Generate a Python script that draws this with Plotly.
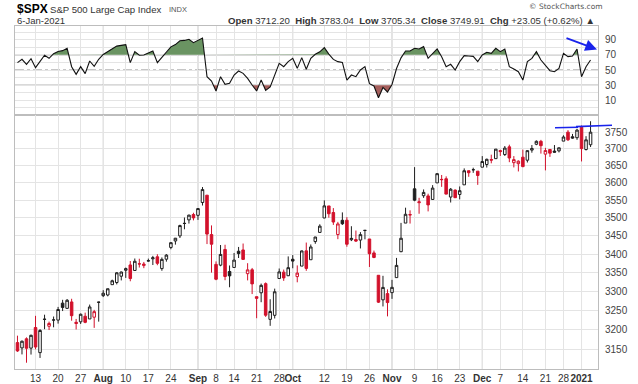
import math
import plotly.graph_objects as go
from plotly.subplots import make_subplots

# ---------------- data ----------------
dates = [
    "2020-07-07", "2020-07-08", "2020-07-09", "2020-07-10", "2020-07-13", "2020-07-14", "2020-07-15",
    "2020-07-16", "2020-07-17", "2020-07-20", "2020-07-21", "2020-07-22", "2020-07-23", "2020-07-24",
    "2020-07-27", "2020-07-28", "2020-07-29", "2020-07-30", "2020-07-31",
    "2020-08-03", "2020-08-04", "2020-08-05", "2020-08-06", "2020-08-07", "2020-08-10", "2020-08-11",
    "2020-08-12", "2020-08-13", "2020-08-14", "2020-08-17", "2020-08-18", "2020-08-19", "2020-08-20",
    "2020-08-21", "2020-08-24", "2020-08-25", "2020-08-26", "2020-08-27", "2020-08-28", "2020-08-31",
    "2020-09-01", "2020-09-02", "2020-09-03", "2020-09-04", "2020-09-08", "2020-09-09", "2020-09-10",
    "2020-09-11", "2020-09-14", "2020-09-15", "2020-09-16", "2020-09-17", "2020-09-18", "2020-09-21",
    "2020-09-22", "2020-09-23", "2020-09-24", "2020-09-25", "2020-09-28", "2020-09-29", "2020-09-30",
    "2020-10-01", "2020-10-02", "2020-10-05", "2020-10-06", "2020-10-07", "2020-10-08", "2020-10-09",
    "2020-10-12", "2020-10-13", "2020-10-14", "2020-10-15", "2020-10-16", "2020-10-19", "2020-10-20",
    "2020-10-21", "2020-10-22", "2020-10-23", "2020-10-26", "2020-10-27", "2020-10-28", "2020-10-29",
    "2020-10-30",
    "2020-11-02", "2020-11-03", "2020-11-04", "2020-11-05", "2020-11-06", "2020-11-09", "2020-11-10",
    "2020-11-11", "2020-11-12", "2020-11-13", "2020-11-16", "2020-11-17", "2020-11-18", "2020-11-19",
    "2020-11-20", "2020-11-23", "2020-11-24", "2020-11-25", "2020-11-27", "2020-11-30",
    "2020-12-01", "2020-12-02", "2020-12-03", "2020-12-04", "2020-12-07", "2020-12-08", "2020-12-09",
    "2020-12-10", "2020-12-11", "2020-12-14", "2020-12-15", "2020-12-16", "2020-12-17", "2020-12-18",
    "2020-12-21", "2020-12-22", "2020-12-23", "2020-12-24", "2020-12-28", "2020-12-29", "2020-12-30",
    "2020-12-31",
    "2021-01-04", "2021-01-05", "2021-01-06",
]

opens = [
    3166.44, 3153.07, 3176.17, 3152.47, 3205.08, 3141.11, 3225.98, 3208.36, 3224.21, 3224.29, 3268.52,
    3254.86, 3271.64, 3218.58, 3219.84, 3234.27, 3227.22, 3231.76, 3270.45,
    3288.26, 3289.92, 3317.37, 3323.17, 3340.05, 3356.04, 3370.34, 3355.46, 3372.95, 3368.66, 3380.86,
    3387.04, 3392.51, 3360.48, 3386.01, 3418.09, 3435.95, 3449.97, 3485.14, 3494.69, 3509.73,
    3507.44, 3543.76, 3564.74, 3453.60, 3371.88, 3369.82, 3412.56, 3352.70, 3363.56, 3407.73, 3411.23,
    3346.86, 3357.38, 3285.57, 3295.75, 3320.11, 3226.14, 3236.66, 3333.90, 3350.92, 3341.21,
    3385.87, 3338.94, 3367.27, 3408.74, 3384.56, 3434.28, 3459.67, 3500.02, 3534.01, 3515.47, 3453.72,
    3493.50, 3493.66, 3439.38, 3439.91, 3438.50, 3464.90, 3441.42, 3403.15, 3342.48, 3277.17, 3293.59,
    3296.20, 3336.25, 3406.46, 3485.74, 3508.34, 3583.04, 3543.26, 3563.22, 3562.67, 3552.57, 3600.16,
    3610.31, 3612.09, 3559.41, 3579.31, 3566.82, 3594.52, 3635.50, 3638.55, 3634.18,
    3645.87, 3653.78, 3668.28, 3670.94, 3694.73, 3683.05, 3705.98, 3659.13, 3656.08, 3675.27, 3666.41,
    3696.25, 3713.65, 3722.39, 3684.28, 3698.08, 3693.42, 3694.03, 3723.03, 3750.01, 3736.19, 3733.27,
    3764.61, 3698.02, 3712.20,
]

highs = [
    3184.15, 3171.80, 3179.78, 3186.82, 3235.32, 3200.95, 3238.28, 3220.39, 3233.52, 3258.61, 3277.29,
    3279.32, 3279.99, 3227.26, 3241.43, 3243.72, 3264.74, 3250.92, 3272.17,
    3302.73, 3306.84, 3330.77, 3351.03, 3352.54, 3363.29, 3381.01, 3387.89, 3387.24, 3378.51, 3387.59,
    3395.06, 3399.54, 3390.80, 3399.96, 3432.09, 3444.21, 3481.07, 3501.38, 3509.23, 3514.77,
    3528.03, 3588.11, 3564.85, 3479.15, 3379.97, 3424.77, 3425.55, 3368.95, 3402.93, 3419.48, 3428.92,
    3375.17, 3362.27, 3285.57, 3320.31, 3323.35, 3278.70, 3306.88, 3360.74, 3357.92, 3393.56,
    3397.18, 3369.10, 3409.57, 3431.56, 3426.26, 3447.28, 3482.34, 3549.85, 3534.01, 3527.94, 3489.08,
    3515.76, 3502.42, 3476.93, 3464.86, 3460.53, 3466.46, 3441.42, 3409.51, 3342.48, 3341.05, 3304.93,
    3330.14, 3389.49, 3486.25, 3529.05, 3521.58, 3645.99, 3557.22, 3581.16, 3569.02, 3593.66, 3628.51,
    3623.11, 3619.09, 3585.22, 3581.23, 3589.81, 3642.31, 3635.50, 3644.31, 3634.18,
    3678.45, 3670.96, 3682.73, 3699.20, 3697.41, 3708.45, 3712.39, 3678.49, 3665.91, 3697.61, 3695.29,
    3711.27, 3725.12, 3726.70, 3702.90, 3698.26, 3711.24, 3703.82, 3740.51, 3756.12, 3744.63, 3760.20,
    3769.99, 3737.83, 3783.04,
]

lows = [
    3142.93, 3136.53, 3115.70, 3136.22, 3149.43, 3127.66, 3200.76, 3198.59, 3205.65, 3215.16, 3247.77,
    3253.10, 3222.66, 3200.05, 3214.25, 3216.17, 3227.22, 3204.13, 3220.26,
    3284.53, 3286.37, 3317.37, 3318.14, 3328.72, 3335.44, 3326.44, 3355.46, 3363.35, 3361.64, 3379.22,
    3370.15, 3369.66, 3354.69, 3379.31, 3413.13, 3425.84, 3444.15, 3468.35, 3484.32, 3493.25,
    3494.60, 3535.23, 3427.41, 3349.63, 3329.27, 3366.84, 3329.25, 3310.47, 3363.56, 3389.25, 3384.45,
    3328.82, 3292.40, 3229.10, 3270.95, 3232.57, 3209.45, 3228.44, 3332.91, 3327.54, 3340.47,
    3361.39, 3323.69, 3367.27, 3354.54, 3384.56, 3428.15, 3458.07, 3499.61, 3500.86, 3480.55, 3440.89,
    3480.45, 3419.93, 3435.65, 3433.06, 3415.34, 3440.45, 3364.86, 3388.71, 3268.89, 3259.82, 3233.94,
    3279.74, 3336.25, 3405.17, 3485.74, 3484.34, 3547.48, 3511.91, 3557.00, 3518.58, 3552.57, 3600.16,
    3588.68, 3567.33, 3543.84, 3556.85, 3552.77, 3594.52, 3617.76, 3629.33, 3594.39,
    3645.87, 3644.84, 3657.17, 3670.94, 3678.88, 3678.83, 3660.54, 3645.18, 3633.40, 3645.84, 3659.62,
    3688.57, 3710.87, 3685.84, 3636.48, 3676.16, 3689.28, 3689.32, 3723.03, 3723.31, 3730.21, 3726.88,
    3662.71, 3695.07, 3705.34,
]

closes = [
    3145.32, 3169.94, 3152.05, 3185.04, 3155.22, 3197.52, 3226.56, 3215.57, 3224.73, 3251.84, 3257.30,
    3276.02, 3235.66, 3215.63, 3239.41, 3218.44, 3258.44, 3246.22, 3271.12,
    3294.61, 3306.51, 3327.77, 3349.16, 3351.28, 3360.47, 3333.69, 3380.35, 3373.43, 3372.85, 3381.99,
    3389.78, 3374.85, 3385.51, 3397.16, 3431.28, 3443.62, 3478.73, 3484.55, 3508.01, 3500.31,
    3526.65, 3580.84, 3455.06, 3426.96, 3331.84, 3398.96, 3339.19, 3340.97, 3383.54, 3401.20, 3385.49,
    3357.01, 3319.47, 3281.06, 3315.57, 3236.92, 3246.59, 3298.46, 3351.60, 3335.47, 3363.00,
    3380.80, 3348.42, 3408.60, 3360.97, 3419.44, 3446.83, 3477.14, 3534.22, 3511.93, 3488.67, 3483.34,
    3483.81, 3426.92, 3443.12, 3435.56, 3453.49, 3465.39, 3400.97, 3390.68, 3271.03, 3310.11, 3269.96,
    3310.24, 3369.16, 3443.44, 3510.45, 3509.44, 3550.50, 3545.53, 3572.66, 3537.01, 3585.15, 3626.91,
    3609.53, 3567.79, 3581.87, 3557.54, 3577.59, 3635.41, 3629.65, 3638.35, 3621.63,
    3662.45, 3669.01, 3666.72, 3699.12, 3691.96, 3702.25, 3672.82, 3668.10, 3663.46, 3647.49, 3694.62,
    3701.17, 3722.48, 3709.41, 3694.92, 3687.26, 3690.01, 3703.06, 3735.36, 3727.04, 3732.04, 3756.07,
    3700.65, 3726.86, 3749.91,
]
prior_close = 3179.72  # close before the first candle (colour of first candle)

rsi = [
    59.7, 64.1, 57.5, 64.9, 53.1, 61.9, 69.5, 65.4, 71.5, 74.5, 75.5, 78.5, 54.4, 44.3, 54.4, 45.2,
    61.9, 54.8, 64.1,
    70.5, 74.5, 78.6, 81.5, 82.5, 83.5, 59.7, 74.2, 69.5, 69.8, 72.5, 75.0, 59.7, 66.7, 72.5, 80.5,
    83.5, 88.5, 89.0, 90.5, 86.0,
    89.0, 92.2, 41.2, 35.5, 22.3, 41.2, 31.1, 32.4, 43.4, 48.7, 45.6, 39.0, 30.2, 22.3, 36.8, 23.2,
    27.6, 43.0, 58.8, 54.4, 61.0,
    65.4, 52.2, 66.3, 50.9, 65.4, 70.7, 74.0, 79.5, 71.0, 64.0, 61.0, 60.0, 36.8, 43.4, 41.2, 50.0,
    54.4, 32.0, 29.0, 13.5, 27.0, 21.0,
    31.0, 52.0, 66.0, 75.0, 75.0, 78.6, 77.7, 80.8, 65.4, 72.0, 77.7, 67.6, 54.4, 57.5, 50.0, 61.0,
    68.9, 68.5, 68.0, 61.0,
    69.8, 73.3, 72.0, 78.6, 74.2, 77.7, 54.4, 51.3, 47.8, 36.8, 61.0, 65.4, 74.2, 63.2, 56.6, 49.1,
    47.8, 52.2, 72.0, 67.6, 68.5, 77.7,
    41.2, 54.4, 63.2,
]

tick_dates = ["2020-07-13", "2020-07-20", "2020-07-27", "2020-08-03", "2020-08-10", "2020-08-17",
              "2020-08-24", "2020-09-01", "2020-09-08", "2020-09-14", "2020-09-21", "2020-09-28",
              "2020-10-01", "2020-10-12", "2020-10-19", "2020-10-26", "2020-11-02", "2020-11-09",
              "2020-11-16", "2020-11-23", "2020-12-01", "2020-12-07", "2020-12-14", "2020-12-21",
              "2020-12-28", "2021-01-04"]
tick_labels = ["13", "20", "27", "<b>Aug</b>", "10", "17", "24", "<b>Sep</b>", "8", "14", "21", "28",
               "<b>Oct</b>", "12", "19", "26", "<b>Nov</b>", "9", "16", "23", "<b>Dec</b>", "7", "14",
               "21", "28", "<b>2021</b>"]
month_dates = ["2020-08-03", "2020-09-01", "2020-10-01", "2020-11-02", "2020-12-01", "2021-01-04"]
price_ticks = [3150, 3200, 3250, 3300, 3350, 3400, 3450, 3500, 3550, 3600, 3650, 3700, 3750]
rsi_grid = [0, 10, 20, 30, 40, 50, 60, 70, 80, 90, 100]
rsi_labels = ["", "10", "", "30", "", "50", "", "70", "", "90", ""]

# ---------------- styling ----------------
FONT = "Liberation Sans, Arial, sans-serif"
RED = "#d2112b"
BLK = "#1e1e1e"
GRID = "#e4e4e4"
MONTH_GRID = "#c6c6c6"
BORDER = "#bdbdbd"
GREEN_FILL = "rgb(106,148,98)"
RED_FILL = "rgb(165,95,92)"
BLUE = "rgb(25,35,235)"

# plot area in pixels
L, R, T, B = 15, 598, 26, 369
W, H = R - L, B - T


def pxx(x):
    return (x - L) / W


def pyy(y):
    return (B - y) / H


n = len(dates)
xi = list(range(n))

fig = make_subplots(rows=2, cols=1, shared_xaxes=True, vertical_spacing=0,
                    row_heights=[89 / H, 254 / H])

# ---- RSI fills ----
def band(xs_in, ys_in, level, above):
    xs, ys = [], []
    for k in range(len(ys_in)):
        if k > 0:
            y0, y1 = ys_in[k - 1], ys_in[k]
            if (y0 - level) * (y1 - level) < 0:
                t = (level - y0) / (y1 - y0)
                xs.append(xs_in[k - 1] + t * (xs_in[k] - xs_in[k - 1]))
                ys.append(level)
        xs.append(xs_in[k])
        ys.append(max(ys_in[k], level) if above else min(ys_in[k], level))
    return xs, ys


for level, above, col in [(70, True, GREEN_FILL), (30, False, RED_FILL)]:
    bx, by = band(xi, rsi, level, above)
    fig.add_trace(go.Scatter(x=bx, y=[level] * len(bx), mode="lines", line=dict(width=0),
                             hoverinfo="skip", showlegend=False), row=1, col=1)
    fig.add_trace(go.Scatter(x=bx, y=by, mode="lines", line=dict(width=0), fill="tonexty",
                             fillcolor=col, hoverinfo="skip", showlegend=False), row=1, col=1)

fig.add_trace(go.Scatter(x=xi, y=rsi, mode="lines", line=dict(color="#111", width=1.1),
                         hoverinfo="skip", showlegend=False), row=1, col=1)

# ---- candles (StockCharts style: colour vs prior close, fill vs open) ----
prev = [prior_close] + closes[:-1]
up_idx = [i for i in xi if closes[i] >= prev[i]]
dn_idx = [i for i in xi if closes[i] < prev[i]]


def sub(arr, idx):
    return [arr[i] for i in idx]


for idx, col in [(up_idx, BLK), (dn_idx, RED)]:
    fig.add_trace(go.Candlestick(
        x=idx, open=sub(opens, idx), high=sub(highs, idx), low=sub(lows, idx), close=sub(closes, idx),
        increasing=dict(line=dict(color=col, width=1), fillcolor="white"),
        decreasing=dict(line=dict(color=col, width=1), fillcolor=col),
        whiskerwidth=0, hoverinfo="skip", showlegend=False), row=2, col=1)

# ---- axes ----
tickvals = [dates.index(d) for d in tick_dates]
fig.update_xaxes(range=[-0.55, 128.65], tickvals=tickvals, ticktext=tick_labels, tickangle=0,
                 automargin=False,
                 showgrid=True, gridcolor=GRID, gridwidth=1, zeroline=False,
                 showline=True, linecolor=BORDER, linewidth=1, mirror=True, ticks="",
                 rangeslider_visible=False,
                 tickfont=dict(family=FONT, size=10, color="#333"))
fig.update_xaxes(showticklabels=False, row=1, col=1)

fig.update_yaxes(row=1, col=1, range=[-9.3, 108], side="right", tickvals=rsi_grid, ticktext=rsi_labels,
                 automargin=False,
                 showgrid=True, gridcolor=GRID, zeroline=False, showline=True, linecolor=BORDER,
                 mirror=True, ticks="", ticklabelstandoff=4,
                 tickfont=dict(family=FONT, size=10, color="#444"))
fig.update_yaxes(row=2, col=1, type="log", range=[math.log10(3100), math.log10(3802)], side="right",
                 tickvals=price_ticks, ticktext=[str(v) for v in price_ticks], automargin=False,
                 showgrid=True, gridcolor=GRID, zeroline=False, showline=True, linecolor=BORDER,
                 mirror=True, ticks="", ticklabelstandoff=4,
                 tickfont=dict(family=FONT, size=10, color="#444"))

shapes = []
for d in month_dates:
    m = dates.index(d)
    shapes.append(dict(type="line", xref="x", yref="paper", x0=m, x1=m, y0=0, y1=1,
                       line=dict(color=MONTH_GRID, width=1), layer="below"))
for lv, dash in [(70, "solid"), (30, "solid"), (50, "dashdot")]:
    shapes.append(dict(type="line", xref="paper", yref="y", x0=0, x1=1, y0=lv, y1=lv,
                       line=dict(color="#8c8c8c", width=1, dash=dash), layer="below"))
# hand-drawn blue resistance line
shapes.append(dict(type="line", xref="paper", yref="paper", x0=pxx(555), x1=pxx(578),
                   y0=pyy(127.7), y1=pyy(127.3), line=dict(color=BLUE, width=1.6)))
shapes.append(dict(type="line", xref="paper", yref="paper", x0=pxx(576), x1=pxx(612),
                   y0=pyy(126.6), y1=pyy(125.3), line=dict(color=BLUE, width=1.6)))

# ---- header text ----
o, h, lo, c = opens[-1], highs[-1], lows[-1], closes[-1]
chg = c - closes[-2]
pct = chg / closes[-2] * 100
sp = "&nbsp;"
header_right = (f"<b>Open</b> {o:.2f}{sp} <b>High</b> {h:.2f}{sp} <b>Low</b> {lo:.2f}{sp} "
                f"<b>Close</b> {c:.2f}{sp} <b>Chg</b> {chg:+.2f} ({pct:+.2f}%) ▲")

annotations = [
    dict(text="<b>$SPX</b>", x=pxx(14.5), y=pyy(9), xanchor="left", yanchor="middle",
         font=dict(family=FONT, size=12, color="#000")),
    dict(text="S&P 500 Large Cap Index", x=pxx(48), y=pyy(9.3), xanchor="left", yanchor="middle",
         font=dict(family=FONT, size=9.6, color="#333")),
    dict(text="INDX", x=pxx(167), y=pyy(9.3), xanchor="left", yanchor="middle",
         font=dict(family=FONT, size=7.5, color="#555")),
    dict(text="6-Jan-2021", x=pxx(14.5), y=pyy(20.5), xanchor="left", yanchor="middle",
         font=dict(family=FONT, size=9.5, color="#333")),
    dict(text=header_right, x=pxx(597), y=pyy(20.5), xanchor="right", yanchor="middle",
         font=dict(family=FONT, size=9.6, color="#333")),
    dict(text="© StockCharts.com", x=pxx(605), y=pyy(6), xanchor="right", yanchor="middle",
         font=dict(family="DejaVu Sans, sans-serif", size=7.5, color="#555")),
    # blue arrow pointing at the RSI peak
    dict(text="", x=pxx(597), y=pyy(49.5), xref="paper", yref="paper", showarrow=True,
         ax=-32, ay=-12, arrowcolor=BLUE, arrowwidth=1.8, arrowhead=2, arrowsize=1.3),
]
for a in annotations:
    a.setdefault("xref", "paper")
    a.setdefault("yref", "paper")
    a.setdefault("showarrow", False)

fig.update_layout(
    width=638, height=384,
    margin=dict(l=L, r=638 - R, t=T, b=384 - B),
    paper_bgcolor="white", plot_bgcolor="white",
    showlegend=False, boxgap=0.2,
    font=dict(family=FONT, size=10, color="#333"),
    shapes=shapes, annotations=annotations,
)

# remove the page's default 8px body margin so the figure sits at the window's top-left corner
fig.write_html("out.html", config={"displayModeBar": False},
               post_script="document.body.style.margin='0';")
